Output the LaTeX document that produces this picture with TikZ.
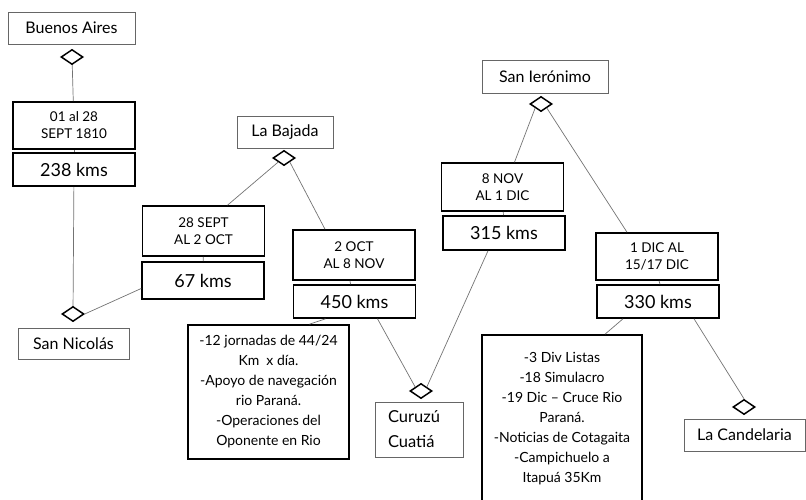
\documentclass[tikz,border=0pt]{standalone}
\usepackage{fontspec}
\setmainfont{Lato}
\usetikzlibrary{shapes.geometric}

\begin{document}
\begin{tikzpicture} [x=1pt,y=-1pt,
    place node/.style={rectangle,draw=black!60,line width=0.9pt,fill=white,
      inner sep=0pt,align=center,font=\fontsize{16}{19}\selectfont},
    date node/.style={rectangle,draw,line width=1.6pt,fill=white,
      inner sep=0pt,align=center,minimum width=122pt,
      font=\fontsize{13.5}{17}\selectfont},
    kms node/.style={rectangle,draw,line width=1.6pt,fill=white,
      inner sep=0pt,align=center,minimum width=122pt,
      font=\fontsize{18}{20}\selectfont},
    notes node/.style={rectangle,draw,line width=1.6pt,fill=white,
      inner sep=0pt,align=center,font=\fontsize{14}{20}\selectfont},
    stop node/.style={diamond,draw,line width=1.5pt,fill=white,inner sep=0pt,
      aspect=1.47,minimum width=22pt,minimum height=15pt},
    link/.style={draw=black!55,line width=0.7pt}]

  \useasboundingbox (0,0) rectangle (806,500);

  % draw the places and their stops
  \node [place node, minimum width=127pt, minimum height=32pt] (buenos_aires) at (71.5,28) {Buenos Aires};
  \node [stop node] (stop_ba) at (72,57) {};
  \node [place node, minimum width=111pt, minimum height=31pt] (san_nicolas) at (73.5,343.5) {San Nicolás};
  \node [stop node] (stop_sn) at (73,314) {};
  \node [place node, minimum width=96pt, minimum height=32pt] (la_bajada) at (285,132) {La Bajada};
  \node [stop node] (stop_lb) at (284,158) {};
  \node [place node, minimum width=88pt, minimum height=55pt, text width=62pt,
    inner xsep=13pt, align=left, font=\fontsize{16.5}{25}\selectfont] (curuzu) at (419,429.5) {Curuzú\\Cuatiá};
  \node [stop node] (stop_cc) at (421,391) {};
  \node [place node, minimum width=126pt, minimum height=33pt] (san_jeronimo) at (545,76.5) {San Ierónimo};
  \node [stop node] (stop_sj) at (541,104) {};
  \node [place node, minimum width=121pt, minimum height=32pt] (candelaria) at (744.5,435) {La Candelaria};
  \node [stop node] (stop_lc) at (744,407) {};

  % draw the legs of the march
  \node [date node, minimum height=47pt] (date_1) at (74,125.5) {01 al 28\\SEPT 1810};
  \node [kms node, minimum height=33pt] (kms_1) at (74,169.5) {238 kms};
  \node [date node, minimum height=50pt] (date_2) at (203.5,231) {28 SEPT\\AL 2 OCT};
  \node [kms node, minimum height=37pt] (kms_2) at (203,280.5) {67 kms};
  \node [date node, minimum height=50pt] (date_3) at (354,255) {2 OCT\\AL 8 NOV};
  \node [kms node, minimum height=33pt] (kms_3) at (354.5,301.5) {450 kms};
  \node [date node, minimum height=48pt] (date_4) at (502.5,187) {8 NOV\\AL 1 DIC};
  \node [kms node, minimum height=34pt] (kms_4) at (504,233) {315 kms};
  \node [date node, minimum height=47pt] (date_5) at (657,256.5) {1 DIC AL\\15/17 DIC};
  \node [kms node, minimum height=33pt] (kms_5) at (658,301.5) {330 kms};

  % notes
  \node [notes node, minimum width=161pt, minimum height=134pt] (notes_1) at (268.5,392)
    {-12 jornadas de 44/24\\Km\ \ x día.\\-Apoyo de navegación\\rio Paraná.\\-Operaciones del\\Oponente en Rio};
  \node [notes node, minimum width=160pt, minimum height=168pt] (notes_2) at (562,419)
    {-3 Div Listas\\-18 Simulacro\\-19 Dic -- Cruce Rio\\Paraná.\\-Noticias de Cotagaita\\-Campichuelo a\\Itapuá 35Km};

  % connectors between the nodes
  \draw [link] (stop_ba) to (date_1);
  \draw [link] (date_1) to (kms_1);
  \draw [link] (kms_1) to (stop_sn);
  \draw [link] (stop_sn.east) to ([yshift=-8pt]kms_2.west);
  \draw [link] (stop_lb.south west) to ([xshift=24pt]date_2.north);
  \draw [link] (date_2) to (kms_2);
  \draw [link] (stop_lb.south east) to ([xshift=-29pt]date_3.north);
  \draw [link] ([xshift=-4pt]date_3.south) to ([xshift=-4pt]kms_3.north);
  \draw [link] ([xshift=-29pt]kms_3.south) to ([xshift=41pt]notes_1.north);
  \draw [link] ([xshift=23pt]kms_3.south) to (stop_cc.north west);
  \draw [link] (stop_cc.north east) to ([xshift=-16pt]kms_4.south);
  \draw [link] (date_4) to (kms_4);
  \draw [link] (stop_sj.south west) to ([xshift=12pt]date_4.north);
  \draw [link] (stop_sj.south east) to ([xshift=-30pt]date_5.north);
  \draw [link] ([xshift=2pt]date_5.south) to ([xshift=2pt]kms_5.north);
  \draw [link] ([xshift=-35pt]kms_5.south) to ([xshift=43pt]notes_2.north);
  \draw [link] ([xshift=36pt]kms_5.south) to (stop_lc.north);

\end{tikzpicture}
\end{document}
